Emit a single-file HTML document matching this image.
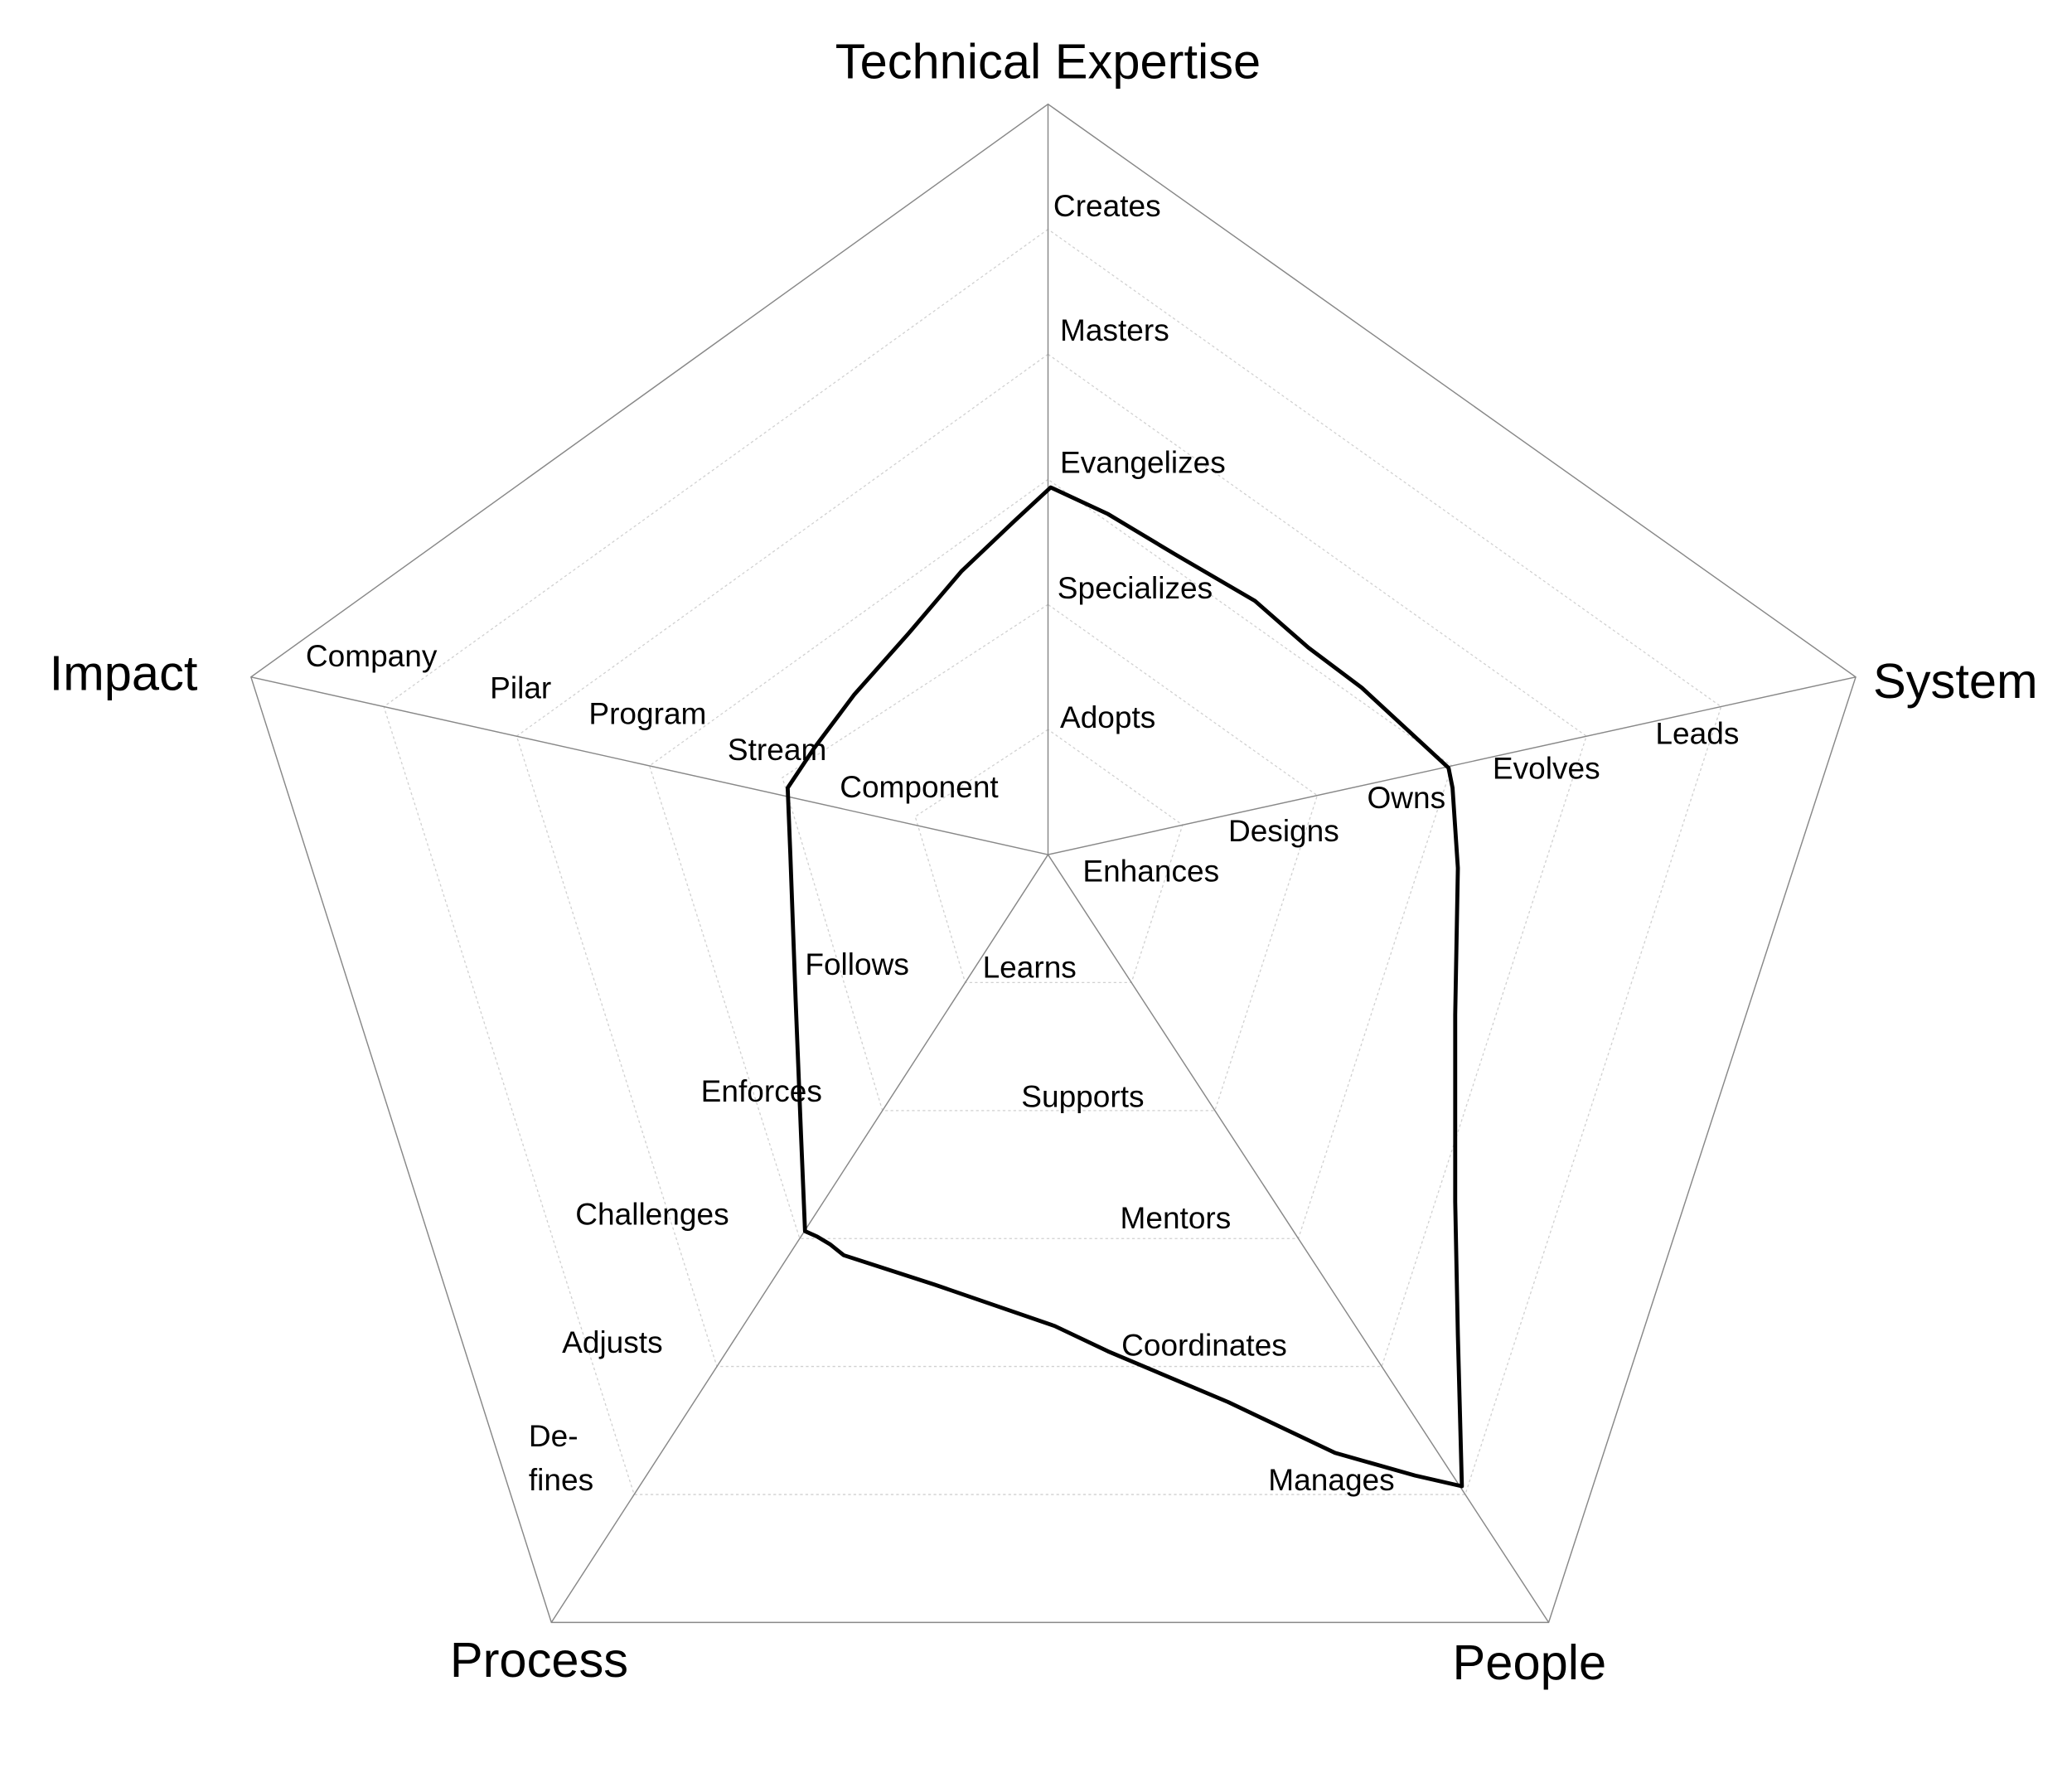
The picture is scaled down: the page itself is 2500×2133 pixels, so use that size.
<!DOCTYPE html>
<html><head><meta charset="utf-8"><style>
html,body{margin:0;padding:0;background:#fff;}
svg{display:block;}
text{font-family:"Liberation Sans",sans-serif;fill:#000;}
.s{font-size:23px;}
.b{font-size:37px;}
</style></head><body>
<svg width="2500" height="2133" viewBox="0 0 1552 1324" preserveAspectRatio="none" xmlns="http://www.w3.org/2000/svg">
<g id="rings" fill="none" stroke="#d0d0d0" stroke-width="0.8" stroke-dasharray="2,2">
<polygon points="785,546.3 685.5,611.5 723,735.8 847.5,735.8 885.8,617.8"/>
<polygon points="785,452.7 586,582.3 661,831.7 910,831.7 986.7,595.7"/>
<polygon points="785,359 486.5,573.5 599,927.5 972.5,927.5 1087.5,573.5"/>
<polygon points="785,265.3 387,551.3 537,1023.3 1035,1023.3 1188.3,551.3"/>
<polygon points="785,171.7 287.5,529.2 475,1119.2 1097.5,1119.2 1289.2,529.2"/>
</g>
<polygon points="785,78 188,507 413,1215 1160,1215 1390,507" fill="none" stroke="#888" stroke-width="0.9"/>
<g stroke="#888" stroke-width="0.9">
<line x1="785" y1="640" x2="785" y2="78"/>
<line x1="785" y1="640" x2="188" y2="507"/>
<line x1="785" y1="640" x2="413" y2="1215"/>
<line x1="785" y1="640" x2="1160" y2="1215"/>
<line x1="785" y1="640" x2="1390" y2="507"/>
</g>
<polyline fill="none" stroke="#000" stroke-width="3" stroke-linejoin="round" stroke-linecap="round"
points="787,365 760,390 720,428 680,475 640,520 610,560 590,590 592,640 596,750 600,850 603,922 612,926 622,932 632,940 700,962 790,993 830,1012 920,1050 1000,1088 1060,1105 1095,1113 1092,1000 1090,900 1090,760 1092,650 1088,590 1085,575 1020,515 980,485 940,450 880,415 830,385 787,365"/>
<g class="s" dominant-baseline="central">
<text x="789" y="154">Creates</text>
<text x="794" y="247">Masters</text>
<text x="794" y="346">Evangelizes</text>
<text x="792" y="440">Specializes</text>
<text x="794" y="537">Adopts</text>
<text x="229" y="491">Company</text>
<text x="367" y="515">Pilar</text>
<text x="441" y="534">Program</text>
<text x="545" y="561">Stream</text>
<text x="629" y="589">Component</text>
<text x="811" y="652">Enhances</text>
<text x="920" y="622">Designs</text>
<text x="1024" y="597">Owns</text>
<text x="1118" y="575">Evolves</text>
<text x="1240" y="549">Leads</text>
<text x="736" y="724">Learns</text>
<text x="765" y="821">Supports</text>
<text x="839" y="912">Mentors</text>
<text x="840" y="1007">Coordinates</text>
<text x="950" y="1108">Manages</text>
<text x="603" y="722">Follows</text>
<text x="525" y="817">Enforces</text>
<text x="431" y="909">Challenges</text>
<text x="421" y="1005">Adjusts</text>
<text x="396" y="1075">De-</text>
<text x="396" y="1108">fines</text>
</g>
<g class="b" dominant-baseline="central">
<text x="785" y="46" text-anchor="middle">Technical Expertise</text>
<text x="37" y="504">Impact</text>
<text x="1403" y="510">System</text>
<text x="337" y="1243">Process</text>
<text x="1088" y="1245">People</text>
</g>
</svg>
</body></html>
